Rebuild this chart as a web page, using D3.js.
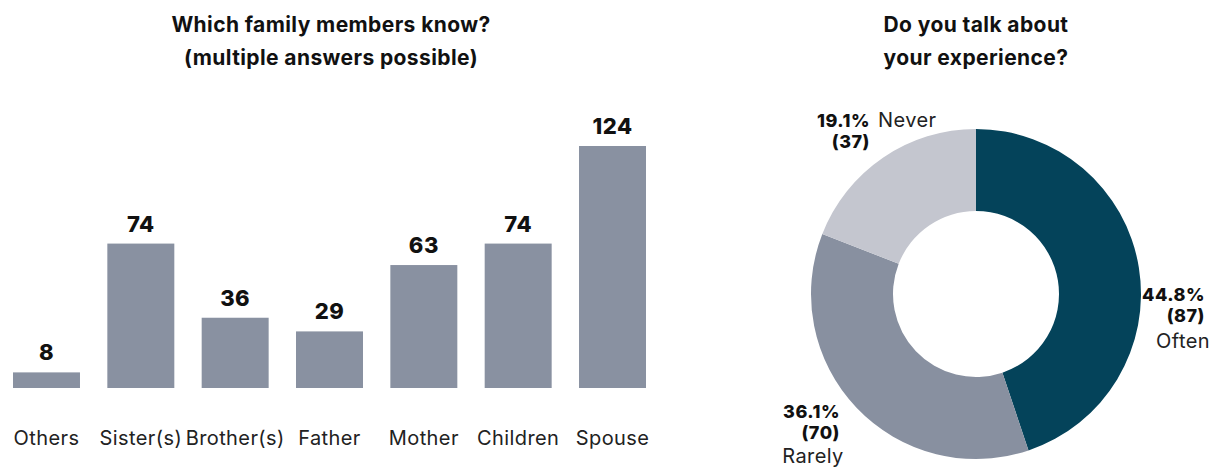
<!DOCTYPE html>
<html>
<head>
<meta charset="utf-8">
<script src="https://cdn.jsdelivr.net/npm/d3@7.9.0/dist/d3.min.js"></script>
<style>
  body { margin: 0; background: #fff; }
  svg text { font-family: Inter, "Noto Sans", sans-serif; fill: #111; }
</style>
</head>
<body>
<svg id="chart" width="1220" height="469"></svg>
<script>
// bar chart data
const members = ["Others", "Sister(s)", "Brother(s)", "Father", "Mother", "Children", "Spouse"];
const memberCounts = [8, 74, 36, 29, 63, 74, 124];

// donut data
const talkAnswers = ["Often", "Rarely", "Never"];
const talkCounts = [87, 70, 37];
const talkPercents = ["44.8%", "36.1%", "19.1%"];

const svg = d3.select("#chart");

// ---- bars ----
const barBase = 388;
const x = d3.scaleBand()
    .domain(members)
    .range([13, 646])
    .paddingInner(0.29)
    .paddingOuter(0);

const y = d3.scaleLinear()
    .domain([0, 124])
    .range([barBase, 146]);

const bars = svg.append("g");

function title(txt, xPos, yPos) {
    svg.append("text")
        .attr("x", xPos)
        .attr("y", yPos)
        .attr("text-anchor", "middle")
        .style("font-size", "21px")
        .style("font-weight", "700")
        .style("letter-spacing", "0.4px")
        .text(txt);
}

title("Which family members know?", 331, 32);
title("(multiple answers possible)", 331, 65);

const barData = members.map((m, i) => ({ name: m, value: memberCounts[i] }));

bars.selectAll(".bar")
    .data(barData)
    .enter()
    .append("rect")
    .attr("class", "bar")
    .attr("x", d => x(d.name))
    .attr("y", d => y(d.value))
    .attr("width", x.bandwidth())
    .attr("height", d => barBase - y(d.value))
    .attr("fill", "#8991a1");

bars.selectAll(".val")
    .data(barData)
    .enter()
    .append("text")
    .attr("class", "val")
    .attr("x", d => x(d.name) + x.bandwidth() / 2)
    .attr("y", d => y(d.value) - 12)
    .attr("text-anchor", "middle")
    .style("font-size", "22px")
    .style("font-weight", "800")
    .style("letter-spacing", "0.5px")
    .text(d => d.value);

bars.append("g")
    .attr("transform", `translate(0, ${barBase})`)
    .call(d3.axisBottom(x).tickSize(0).tickPadding(43))
    .call(g => g.select(".domain").remove())
    .selectAll("text")
    .style("font-family", "Inter, 'Noto Sans', sans-serif")
    .style("font-size", "20px")
    .style("letter-spacing", "0.4px")
    .style("fill", "#222");

// ---- donut ----
const cx = 976, cy = 294;
const outerR = 165, innerR = 83;
const colors = d3.scaleOrdinal()
    .domain(talkAnswers)
    .range(["#04435a", "#8890a0", "#c4c6cf"]);

const donut = svg.append("g").attr("transform", `translate(${cx}, ${cy})`);

title("Do you talk about", cx, 32);
title("your experience?", cx, 65);

const talkData = talkAnswers.map((a, i) => ({ name: a, value: talkCounts[i], pct: talkPercents[i] }));
const pie = d3.pie().value(d => d.value).sort(null);
const arc = d3.arc().innerRadius(innerR).outerRadius(outerR);
const arcs = pie(talkData);

donut.selectAll("path")
    .data(arcs)
    .enter()
    .append("path")
    .attr("d", arc)
    .attr("fill", d => colors(d.data.name));

// label layout: anchor point (relative to centre) and where the answer name goes
const labelLayout = {
    Often:  { x: 229, y: 7, nameX: 207, nameY: 54, inline: false },
    Rarely: { x: -136, y: 124, nameX: -163, nameY: 169, inline: false },
    Never:  { x: -106, y: -167, inline: true }
};

arcs.forEach(a => {
    const L = labelLayout[a.data.name];
    const g = donut.append("g");
    g.append("text")
        .attr("x", L.x)
        .attr("y", L.y)
        .attr("text-anchor", "end")
        .style("font-size", "18px")
        .style("font-weight", "800")
        .style("letter-spacing", "0.5px")
        .text(a.data.pct);
    g.append("text")
        .attr("x", L.x)
        .attr("y", L.y + 21)
        .attr("text-anchor", "end")
        .style("font-size", "18px")
        .style("font-weight", "800")
        .style("letter-spacing", "0.5px")
        .text(`(${a.data.value})`);
    if (L.inline) {
        g.append("text")
            .attr("x", L.x + 8)
            .attr("y", L.y)
            .style("font-size", "20px")
            .style("letter-spacing", "0.4px")
            .style("fill", "#222")
            .text(a.data.name);
    } else {
        g.append("text")
            .attr("x", L.nameX)
            .attr("y", L.nameY)
            .attr("text-anchor", "middle")
            .style("font-size", "20px")
            .style("letter-spacing", "0.4px")
            .style("fill", "#222")
            .text(a.data.name);
    }
});
</script>
</body>
</html>
